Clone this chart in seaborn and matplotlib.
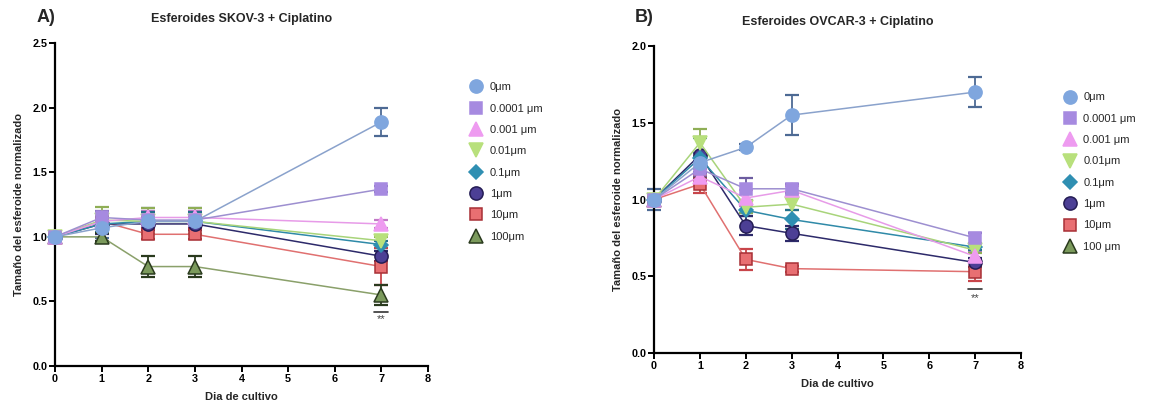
import numpy as np
import pandas as pd
import matplotlib
matplotlib.use("Agg")
import matplotlib.pyplot as plt
from matplotlib.lines import Line2D
import seaborn as sns

# Datos
dias = [0, 1, 2, 3, 7]

conc_skov = ["0μm", "0.0001 μm", "0.001 μm", "0.01μm", "0.1μm", "1μm", "10μm", "100μm"]
conc_ovcar = ["0μm", "0.0001 μm", "0.001 μm", "0.01μm", "0.1μm", "1μm", "10μm", "100 μm"]

# SKOV-3 (medias y error por concentracion)
skov_medias = [
    [1.0, 1.07, 1.12, 1.12, 1.89],
    [1.0, 1.15, 1.13, 1.13, 1.37],
    [1.0, 1.12, 1.15, 1.15, 1.10],
    [1.0, 1.13, 1.12, 1.12, 0.97],
    [1.0, 1.10, 1.12, 1.12, 0.94],
    [1.0, 1.10, 1.10, 1.10, 0.85],
    [1.0, 1.12, 1.02, 1.02, 0.77],
    [1.0, 1.00, 0.77, 0.77, 0.55],
]
skov_error = [
    [0.0, 0.08, 0.10, 0.10, 0.11],
    [0.0, 0.05, 0.06, 0.06, 0.02],
    [0.0, 0.05, 0.05, 0.05, 0.03],
    [0.0, 0.10, 0.10, 0.10, 0.03],
    [0.0, 0.06, 0.07, 0.07, 0.03],
    [0.0, 0.08, 0.05, 0.05, 0.04],
    [0.0, 0.06, 0.04, 0.04, 0.14],
    [0.0, 0.03, 0.08, 0.08, 0.08],
]

# OVCAR-3 (100 um solo aparece en el dia 0)
ovcar_medias = [
    [1.0, 1.24, 1.34, 1.55, 1.70],
    [1.0, 1.20, 1.07, 1.07, 0.75],
    [1.0, 1.15, 1.01, 1.06, 0.63],
    [1.0, 1.37, 0.95, 0.97, 0.67],
    [1.0, 1.27, 0.93, 0.87, 0.69],
    [1.0, 1.29, 0.83, 0.78, 0.59],
    [1.0, 1.10, 0.61, 0.55, 0.53],
    [1.0, np.nan, np.nan, np.nan, np.nan],
]
ovcar_error = [
    [0.07, 0.06, 0.02, 0.13, 0.10],
    [0.0, 0.05, 0.07, 0.03, 0.03],
    [0.0, 0.05, 0.05, 0.03, 0.03],
    [0.0, 0.09, 0.04, 0.04, 0.02],
    [0.0, 0.13, 0.04, 0.06, 0.02],
    [0.0, 0.12, 0.06, 0.05, 0.03],
    [0.0, 0.06, 0.07, 0.02, 0.06],
    [0.0, np.nan, np.nan, np.nan, np.nan],
]

# Estilo de cada serie
marcadores = ["o", "s", "^", "v", "D", "o", "s", "^"]
tamanos = [9.5, 9, 9.5, 9.5, 7, 9.5, 9, 9.5]
relleno = ["#7fa6de", "#a68ae0", "#ee9bf0", "#b8e07c", "#2f8fb2", "#4c3f95", "#e86f72", "#7b9a5c"]
borde = ["#7fa6de", "#a68ae0", "#ee9bf0", "#b8e07c", "#2f8fb2", "#251d55", "#a83036", "#2a3a1e"]
lineas = ["#8aa2cc", "#9d8fd0", "#e79be8", "#a8d47a", "#2f8aa8", "#2d2a6a", "#e07070", "#8aa06a"]
barras = ["#4d6a94", "#6c5ca0", "#c27ac6", "#8fae55", "#25708c", "#2d2a6a", "#c8454a", "#2a3a1e"]

sns.set_theme(style="ticks")
plt.rcParams["font.family"] = ["Liberation Sans", "DejaVu Sans"]

fig = plt.figure(figsize=(11.57, 4.11), dpi=100)
ax_a = fig.add_axes([0.0475, 0.1095, 0.3225, 0.7855])
ax_b = fig.add_axes([0.5653, 0.141, 0.3172, 0.747])


def dibujar(ax, medias, errores, etiquetas, ymax, titulo):
    for i in reversed(range(len(etiquetas))):
        df = pd.DataFrame({"dia": dias, "tam": medias[i], "err": errores[i]}).dropna()
        ax.errorbar(df["dia"], df["tam"], yerr=df["err"], fmt="none", ecolor=barras[i],
                    elinewidth=1.3, capsize=5, capthick=1.6, clip_on=False, zorder=2 + i * 0.01)
        sns.lineplot(data=df, x="dia", y="tam", ax=ax, color=lineas[i], lw=1.1,
                     marker=marcadores[i], markersize=tamanos[i],
                     markerfacecolor=relleno[i], markeredgecolor=borde[i],
                     markeredgewidth=1.1, errorbar=None, clip_on=False,
                     zorder=3 + (len(etiquetas) - i) * 0.01)
    ax.set_xlim(0, 8)
    ax.set_ylim(0, ymax)
    ax.set_xticks(range(0, 9))
    ax.set_yticks(np.arange(0, ymax + 0.01, 0.5))
    ax.set_yticklabels([f"{v:.1f}" for v in np.arange(0, ymax + 0.01, 0.5)])
    for s in ["top", "right"]:
        ax.spines[s].set_visible(False)
    for s in ["left", "bottom"]:
        ax.spines[s].set_linewidth(1.6)
        ax.spines[s].set_color("black")
    ax.tick_params(direction="out", length=4, width=1.4, labelsize=7.8, colors="black", pad=1.5)
    for lab in ax.get_xticklabels() + ax.get_yticklabels():
        lab.set_fontweight("bold")
    ax.set_xlabel("Dia de cultivo", fontsize=8, fontweight="bold", labelpad=6)
    ax.set_ylabel("Tamaño del esferoide normalizado", fontsize=8, fontweight="bold", labelpad=6)
    ax.set_title(titulo, fontsize=9, fontweight="bold", pad=15)
    ax.grid(False)
    # marca de significancia
    ax.plot([6.85, 7.15], [0.42, 0.42], color="#333333", lw=1.2, clip_on=False)
    ax.text(7, 0.36, "**", ha="center", va="center", fontsize=8, color="#444444")


dibujar(ax_a, skov_medias, skov_error, conc_skov, 2.5, "Esferoides SKOV-3 + Ciplatino")
dibujar(ax_b, ovcar_medias, ovcar_error, conc_ovcar, 2.0, "Esferoides OVCAR-3 + Ciplatino")


def leyenda(etiquetas, x, y):
    handles = [Line2D([], [], ls="none", marker=marcadores[i], markersize=tamanos[i],
                      markerfacecolor=relleno[i], markeredgecolor=borde[i], markeredgewidth=1.1)
               for i in range(len(etiquetas))]
    fig.legend(handles, etiquetas, loc="upper left", bbox_to_anchor=(x, y), frameon=False,
               fontsize=8, handlelength=1.2, handletextpad=0.6, labelspacing=1.02,
               borderpad=0, borderaxespad=0)


leyenda(conc_skov, 0.406, 0.80)
leyenda(conc_ovcar, 0.919, 0.775)

fig.text(0.032, 0.958, "A)", fontsize=13, fontweight="bold", va="center")
fig.text(0.549, 0.958, "B)", fontsize=13, fontweight="bold", va="center")

fig.savefig("out.png", dpi=100, facecolor="white")
